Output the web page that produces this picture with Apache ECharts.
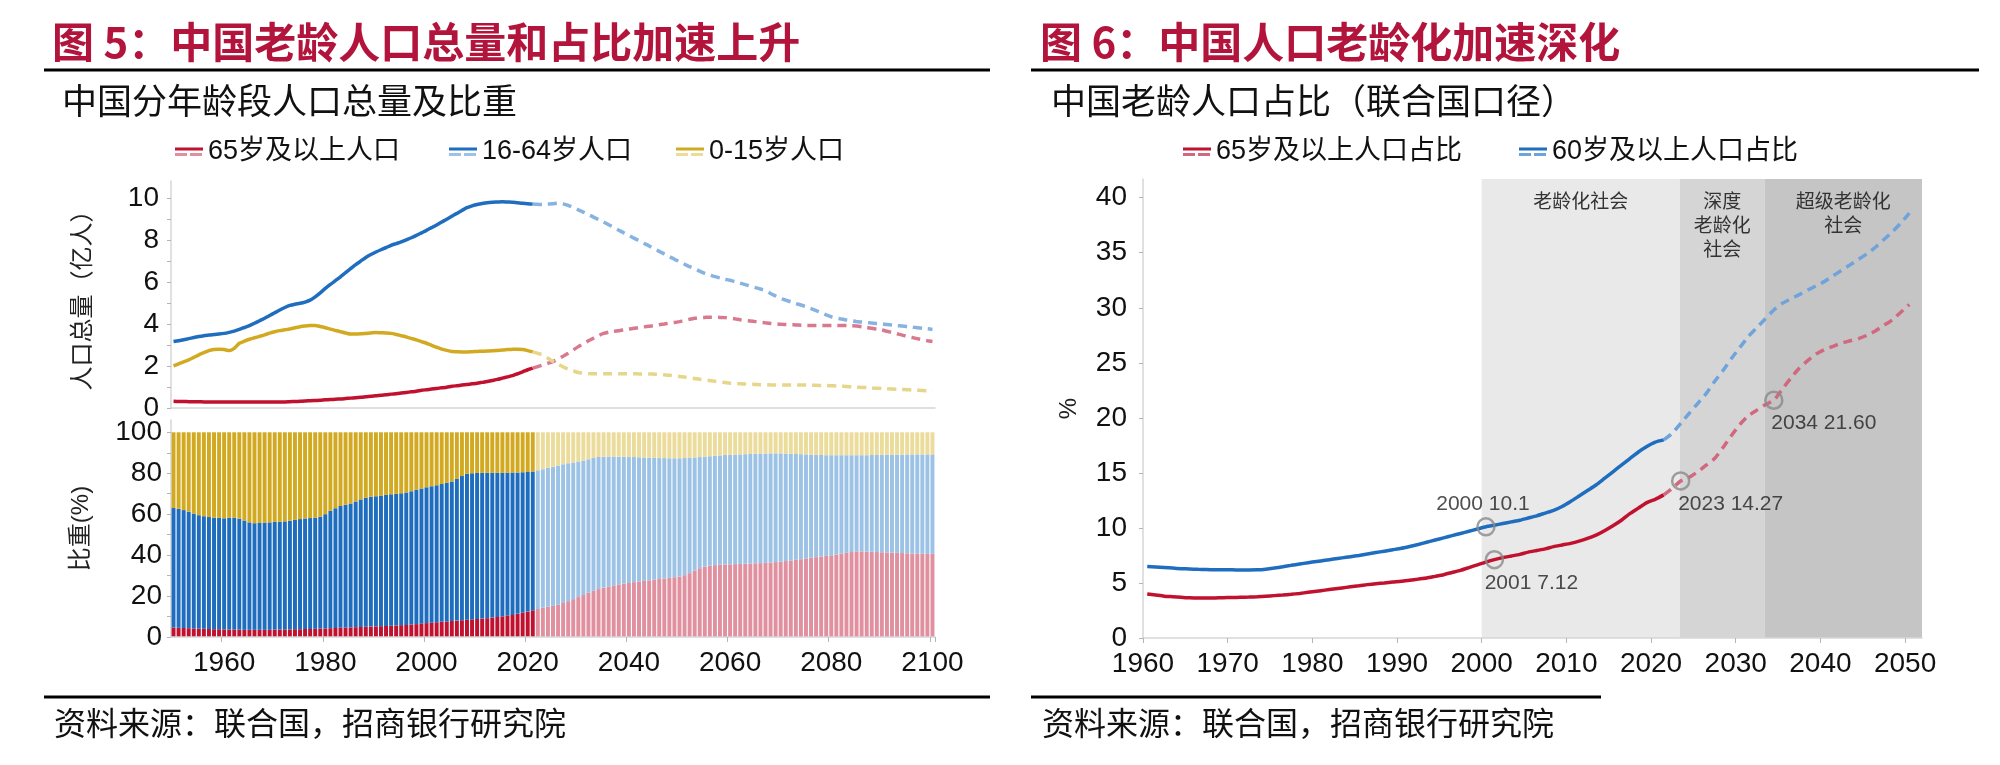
<!DOCTYPE html>
<html>
<head>
<meta charset="utf-8">
<script src="https://cdn.jsdelivr.net/npm/echarts@6.0.0/dist/echarts.min.js"></script>
<style>
html, body { margin: 0; padding: 0; background: #fff; }
#chart { width: 2000px; height: 765px; }
</style>
</head>
<body>
<div id="chart"></div>
<script>
// ---- data: left panel, population by age group (亿人), 1950-2100 ----
var firstYear = 1950, lastYear = 2100, lastHistYear = 2021;

var pop65 = [
  0.32,0.31,0.31,0.30,0.30,0.30,0.29,0.29,0.29,0.28,
  0.28,0.28,0.28,0.28,0.28,0.28,0.28,0.28,0.28,0.28,
  0.28,0.29,0.29,0.30,0.31,0.32,0.33,0.35,0.36,0.37,
  0.39,0.40,0.42,0.43,0.45,0.47,0.49,0.51,0.53,0.56,
  0.58,0.61,0.63,0.66,0.68,0.71,0.74,0.77,0.80,0.84,
  0.87,0.90,0.93,0.96,0.99,1.03,1.06,1.09,1.12,1.15,
  1.18,1.22,1.26,1.31,1.36,1.42,1.48,1.54,1.63,1.72,
  1.82,1.90,1.97,2.05,2.13,2.21,2.33,2.46,2.60,2.76,
  2.92,3.06,3.20,3.32,3.45,3.55,3.61,3.65,3.68,3.72,
  3.76,3.79,3.83,3.86,3.89,3.92,3.96,4.00,4.04,4.07,
  4.11,4.16,4.22,4.27,4.30,4.31,4.32,4.32,4.31,4.30,
  4.27,4.24,4.20,4.17,4.14,4.11,4.08,4.05,4.02,4.00,
  3.98,3.97,3.96,3.95,3.94,3.93,3.93,3.93,3.93,3.93,
  3.93,3.93,3.92,3.92,3.91,3.90,3.87,3.83,3.79,3.75,
  3.71,3.65,3.59,3.53,3.47,3.40,3.35,3.30,3.25,3.20,
  3.16
];
var pop1664 = [
  3.16,3.20,3.25,3.30,3.35,3.40,3.44,3.47,3.50,3.52,
  3.55,3.60,3.66,3.74,3.83,3.92,4.03,4.15,4.27,4.40,
  4.53,4.66,4.78,4.88,4.94,4.98,5.04,5.13,5.29,5.48,
  5.69,5.88,6.06,6.24,6.44,6.63,6.82,6.99,7.16,7.30,
  7.42,7.53,7.63,7.74,7.82,7.90,8.00,8.10,8.21,8.33,
  8.45,8.58,8.71,8.85,8.98,9.12,9.26,9.40,9.53,9.62,
  9.68,9.73,9.77,9.79,9.80,9.81,9.80,9.79,9.76,9.74,
  9.72,9.70,9.69,9.68,9.70,9.72,9.75,9.71,9.64,9.54,
  9.43,9.32,9.20,9.08,8.97,8.85,8.72,8.59,8.46,8.33,
  8.21,8.08,7.96,7.83,7.71,7.58,7.45,7.33,7.20,7.08,
  6.95,6.84,6.73,6.63,6.51,6.40,6.32,6.25,6.19,6.13,
  6.08,6.01,5.94,5.87,5.80,5.73,5.66,5.58,5.45,5.33,
  5.21,5.13,5.05,4.97,4.90,4.82,4.73,4.63,4.53,4.43,
  4.34,4.28,4.23,4.19,4.15,4.11,4.09,4.07,4.04,4.02,
  4.00,3.97,3.95,3.92,3.90,3.87,3.85,3.82,3.79,3.77,
  3.74
];
var pop015 = [
  2.00,2.10,2.20,2.29,2.41,2.53,2.63,2.73,2.78,2.80,
  2.78,2.73,2.84,3.08,3.18,3.27,3.34,3.41,3.48,3.56,
  3.63,3.68,3.72,3.76,3.82,3.87,3.90,3.92,3.93,3.88,
  3.82,3.75,3.69,3.63,3.57,3.52,3.52,3.53,3.55,3.57,
  3.59,3.58,3.57,3.55,3.50,3.44,3.38,3.31,3.24,3.16,
  3.08,2.98,2.89,2.80,2.74,2.69,2.68,2.67,2.67,2.68,
  2.69,2.70,2.71,2.72,2.74,2.76,2.78,2.79,2.80,2.78,
  2.73,2.67,2.60,2.53,2.37,2.21,2.08,1.96,1.85,1.77,
  1.69,1.66,1.64,1.63,1.63,1.63,1.63,1.63,1.63,1.63,
  1.63,1.63,1.62,1.62,1.62,1.61,1.60,1.58,1.56,1.53,
  1.50,1.47,1.44,1.40,1.37,1.34,1.31,1.27,1.24,1.21,
  1.18,1.17,1.15,1.14,1.13,1.12,1.11,1.11,1.10,1.10,
  1.09,1.09,1.09,1.09,1.09,1.09,1.08,1.08,1.07,1.07,
  1.06,1.05,1.04,1.02,1.01,0.99,0.98,0.97,0.95,0.94,
  0.93,0.92,0.90,0.89,0.88,0.87,0.86,0.85,0.83,0.82,
  0.81
];

// cumulative share (%) read at the top of the red and of the blue bars
var cum65 = [
  4.6,4.5,4.4,4.3,4.2,4.1,4.0,3.9,3.8,3.8,
  3.7,3.7,3.6,3.6,3.5,3.5,3.5,3.5,3.5,3.5,
  3.6,3.6,3.7,3.7,3.8,3.8,3.9,3.9,4.0,4.1,
  4.2,4.3,4.4,4.5,4.6,4.7,4.8,4.9,5.0,5.1,
  5.2,5.3,5.4,5.5,5.6,5.8,5.9,6.1,6.3,6.5,
  6.8,7.0,7.2,7.4,7.6,7.8,8.0,8.2,8.4,8.6,
  8.8,9.0,9.2,9.5,9.8,10.1,10.4,10.8,11.3,11.8,
  12.4,13.0,13.7,14.3,14.8,15.2,15.8,16.6,17.5,18.5,
  19.5,20.5,21.6,22.6,23.4,24.0,24.6,25.2,25.7,26.1,
  26.4,26.8,27.1,27.4,27.7,28.0,28.3,28.6,28.9,29.2,
  29.5,30.2,31.2,32.5,33.6,34.4,34.8,35.1,35.3,35.4,
  35.5,35.6,35.7,35.8,35.9,36.0,36.1,36.2,36.4,36.6,
  36.8,37.1,37.4,37.7,38.0,38.4,38.7,39.0,39.3,39.6,
  39.9,40.3,40.7,41.1,41.5,41.8,41.8,41.7,41.6,41.5,
  41.4,41.3,41.2,41.1,41.0,40.9,40.8,40.8,40.7,40.6,
  40.6
];
var cum1664 = [
  63.0,62.6,62.0,61.2,60.3,59.5,59.0,58.6,58.3,58.2,
  58.0,58.2,58.3,57.8,56.9,56.0,55.6,55.7,55.9,56.0,
  56.2,56.3,56.5,56.8,57.2,57.6,57.9,58.1,58.2,58.8,
  60.0,61.6,62.9,64.0,64.6,65.2,66.2,67.2,68.0,68.5,
  68.8,69.1,69.4,69.7,69.9,70.2,70.6,71.2,71.9,72.5,
  73.1,73.6,74.1,74.7,75.3,76.0,77.2,78.6,79.7,80.0,
  80.1,80.2,80.2,80.2,80.2,80.2,80.2,80.3,80.4,80.5,
  80.6,80.8,81.4,82.0,82.6,83.2,83.8,84.4,84.9,85.3,
  85.7,86.2,86.8,87.4,87.9,88.1,88.2,88.2,88.1,88.0,
  87.9,87.9,87.8,87.7,87.6,87.5,87.4,87.4,87.3,87.3,
  87.3,87.4,87.5,87.7,87.9,88.1,88.3,88.5,88.7,88.9,
  89.0,89.1,89.2,89.3,89.4,89.5,89.6,89.6,89.7,89.7,
  89.7,89.6,89.5,89.4,89.3,89.2,89.1,89.0,88.9,88.8,
  88.8,88.8,88.8,88.8,88.8,88.8,88.8,88.8,88.9,88.9,
  89.0,89.0,89.1,89.1,89.1,89.2,89.2,89.2,89.2,89.2,
  89.2
];

// ---- data: right panel, share of elderly (%), 1960-2050 ----
var ratioFirstYear = 1960, ratioLastYear = 2050;
var ratio65 = [
  4.0,3.9,3.8,3.75,3.7,3.65,3.63,3.63,3.64,3.66,
  3.68,3.7,3.72,3.75,3.8,3.85,3.9,3.97,4.05,4.15,
  4.25,4.35,4.45,4.55,4.65,4.75,4.85,4.93,5.0,5.08,
  5.15,5.25,5.35,5.45,5.6,5.75,5.95,6.15,6.4,6.65,
  6.9,7.12,7.3,7.45,7.6,7.8,7.95,8.1,8.3,8.45,
  8.6,8.8,9.05,9.35,9.75,10.2,10.7,11.3,11.8,12.3,
  12.6,13.0,13.6,14.27,14.6,15.1,15.7,16.3,17.3,18.4,
  19.4,20.2,20.7,21.2,21.6,22.6,23.6,24.5,25.2,25.8,
  26.2,26.5,26.8,27.0,27.2,27.5,27.9,28.4,28.9,29.6,
  30.3
];
var ratio60 = [
  6.5,6.45,6.4,6.35,6.3,6.27,6.24,6.22,6.2,6.19,
  6.19,6.18,6.18,6.19,6.25,6.35,6.47,6.6,6.72,6.84,
  6.95,7.06,7.17,7.28,7.39,7.5,7.63,7.76,7.89,8.02,
  8.15,8.32,8.5,8.7,8.9,9.1,9.3,9.5,9.7,9.9,
  10.1,10.25,10.4,10.55,10.7,10.9,11.1,11.35,11.6,11.95,
  12.4,12.9,13.4,13.9,14.5,15.1,15.7,16.3,16.9,17.4,
  17.8,18.0,18.6,19.5,20.4,21.3,22.2,23.3,24.3,25.4,
  26.4,27.4,28.2,29.0,29.8,30.4,30.8,31.2,31.6,32.0,
  32.4,32.9,33.4,33.9,34.4,34.9,35.5,36.2,36.9,37.7,
  38.6
];

// annotated points on the right panel
var annoYears = [2000, 2001, 2023, 2034];
var annoSeries = ['60', '65', '65', '65'];
var annoDigits = [1, 2, 2, 2];

// stages of ageing (shaded bands)
var stageNames = ['老龄化社会', '深度\n老龄化\n社会', '超级老龄化\n社会'];
var stageStart = [2000, 2023.4, 2033.4];
var stageEnd = [2023.4, 2033.4, 2052];

// ticks and labels
var popTicks = [0, 1, 2, 3, 4, 5, 6, 7, 8, 9, 10];
var popLabels = [0, 2, 4, 6, 8, 10];
var shareTicks = [0, 10, 20, 30, 40, 50, 60, 70, 80, 90, 100];
var shareLabels = [0, 20, 40, 60, 80, 100];
var ratioTicks = [0, 5, 10, 15, 20, 25, 30, 35, 40];
var yearTicks = [1960, 1970, 1980, 1990, 2000, 2010, 2020, 2030, 2040, 2050];

// ---- colours and fonts ----
var red = '#c0112f', redLight = '#e0909f', redDash = '#d9798e';
var blue = '#1f6dbf', blueLight = '#9cc2e6', blueDash = '#86b3e0';
var gold = '#d2aa22', goldLight = '#ecdc9c', goldDash = '#e6d68a';
var redDashR = '#d2687f', blueDashR = '#6ea3dc';
var cjk = "'Noto Sans CJK SC', sans-serif";
var mix = "'Liberation Sans', 'Noto Sans CJK SC', sans-serif";
var axisGray = '#d6d6d6', tickGray = '#b5b5b5';

var years = [];
for (var y = firstYear; y <= lastYear; y++) years.push(String(y));
var ratioYears = [];
for (var y2 = ratioFirstYear; y2 <= ratioLastYear; y2++) ratioYears.push(y2);

function legendIcon(dark, light) {
  var svg = '<svg xmlns="http://www.w3.org/2000/svg" width="28" height="10" viewBox="0 0 28 10">' +
    '<line x1="0" y1="2" x2="28" y2="2" stroke="' + dark + '" stroke-width="3"/>' +
    '<line x1="0" y1="7.5" x2="28" y2="7.5" stroke="' + light + '" stroke-width="3" stroke-dasharray="12 3"/></svg>';
  return 'image://data:image/svg+xml;charset=utf-8,' + encodeURIComponent(svg);
}

function splitHist(arr, yrs) {
  return arr.map(function (v, i) { return Number(yrs[i]) <= lastHistYear ? v : null; });
}
function splitProj(arr, yrs) {
  return arr.map(function (v, i) { return Number(yrs[i]) >= lastHistYear ? v : null; });
}
// right panel points sit in the middle of each year
function toXY(arr, hist) {
  var out = [];
  arr.forEach(function (v, i) {
    var yr = ratioYears[i];
    if (hist ? yr <= lastHistYear : yr >= lastHistYear) out.push([yr + 0.5, v]);
  });
  return out;
}

function popLine(name, arr, color, dashColor) {
  return [{
    name: name, type: 'line', xAxisIndex: 0, yAxisIndex: 0,
    data: splitHist(arr, years), symbol: 'none', smooth: 0.2,
    lineStyle: { color: color, width: 3.5 }, itemStyle: { color: color }
  }, {
    name: name, type: 'line', xAxisIndex: 0, yAxisIndex: 0,
    data: splitProj(arr, years), symbol: 'none', smooth: 0.2,
    lineStyle: { color: dashColor, width: 3.5, type: [9, 6] }, itemStyle: { color: color }
  }];
}

function shareBar(name, values, dark, light) {
  return {
    name: name, type: 'bar', stack: 'share', xAxisIndex: 1, yAxisIndex: 1,
    barCategoryGap: '22%',
    data: values.map(function (v, i) {
      return { value: v, itemStyle: { color: Number(years[i]) <= lastHistYear ? dark : light } };
    })
  };
}

var share65 = cum65.slice();
var share1664 = cum1664.map(function (v, i) { return +(v - cum65[i]).toFixed(2); });
var share015 = cum1664.map(function (v) { return +(100 - v).toFixed(2); });

// annotation points
var annoData = annoYears.map(function (yr, k) {
  var idx = yr - ratioFirstYear;
  var v = annoSeries[k] === '60' ? ratio60[idx] : ratio65[idx];
  var label = k === 0
    ? { position: 'top', distance: 2, offset: [-3, 0] }
    : { position: 'bottom', distance: 3, offset: [k === 1 ? 37 : 50, 0] };
  label.formatter = yr + ' ' + v.toFixed(annoDigits[k]);
  return { value: [yr + 0.5, v], label: label };
});

var legendCommon = {
  itemWidth: 28, itemHeight: 10, padding: 0, selectedMode: false,
  textStyle: { fontSize: 27, fontFamily: mix, color: '#111', lineHeight: 32 }
};
function legendAt(left, name, dark, light) {
  return Object.assign({}, legendCommon, {
    left: left, top: 136,
    data: [{ name: name, icon: legendIcon(dark, light) }]
  });
}

var chartDom = document.getElementById('chart');
var myChart = echarts.init(chartDom, null, { renderer: 'canvas' });

var option = {
  animation: false,
  backgroundColor: '#fff',
  title: [
    { text: '图 5：中国老龄人口总量和占比加速上升', left: 52, top: 17, padding: 0,
      textStyle: { fontSize: 42, fontWeight: 'bold', color: '#b3143c', fontFamily: cjk, lineHeight: 50 } },
    { text: '中国分年龄段人口总量及比重', left: 62, top: 80, padding: 0,
      textStyle: { fontSize: 35, fontWeight: 'normal', color: '#111', fontFamily: cjk, lineHeight: 42 } },
    { text: '资料来源：联合国，招商银行研究院', left: 54, top: 704, padding: 0,
      textStyle: { fontSize: 32, fontWeight: 'normal', color: '#111', fontFamily: cjk, lineHeight: 38 } },
    { text: '图 6：中国人口老龄化加速深化', left: 1040, top: 17, padding: 0,
      textStyle: { fontSize: 42, fontWeight: 'bold', color: '#b3143c', fontFamily: cjk, lineHeight: 50 } },
    { text: '中国老龄人口占比（联合国口径）', left: 1051, top: 80, padding: 0,
      textStyle: { fontSize: 35, fontWeight: 'normal', color: '#111', fontFamily: cjk, lineHeight: 42 } },
    { text: '资料来源：联合国，招商银行研究院', left: 1042, top: 704, padding: 0,
      textStyle: { fontSize: 32, fontWeight: 'normal', color: '#111', fontFamily: cjk, lineHeight: 38 } }
  ],
  legend: [
    legendAt(175, '65岁及以上人口', red, redLight),
    legendAt(449, '16-64岁人口', blue, blueLight),
    legendAt(676, '0-15岁人口', gold, goldLight),
    legendAt(1183, '65岁及以上人口占比', red, redDashR),
    legendAt(1519, '60岁及以上人口占比', blue, blueDashR)
  ],
  graphic: [
    { type: 'line', shape: { x1: 44, y1: 70, x2: 990, y2: 70 }, style: { stroke: '#000', lineWidth: 3 } },
    { type: 'line', shape: { x1: 1031, y1: 70, x2: 1979, y2: 70 }, style: { stroke: '#000', lineWidth: 3 } },
    { type: 'line', shape: { x1: 44, y1: 697, x2: 990, y2: 697 }, style: { stroke: '#000', lineWidth: 3 } },
    { type: 'line', shape: { x1: 1031, y1: 697, x2: 1601, y2: 697 }, style: { stroke: '#000', lineWidth: 3 } }
  ],
  grid: [
    { left: 171, top: 181, width: 764, height: 227, containLabel: false, outerBoundsMode: 'none' },
    { left: 171, top: 420, width: 764, height: 217, containLabel: false, outerBoundsMode: 'none' },
    { left: 1143, top: 179, width: 779, height: 459, containLabel: false, outerBoundsMode: 'none' }
  ],
  xAxis: [
    { type: 'category', gridIndex: 0, data: years, boundaryGap: true,
      axisLine: { lineStyle: { color: axisGray, width: 1.5 } },
      axisTick: { show: false }, axisLabel: { show: false }, splitLine: { show: false } },
    { type: 'category', gridIndex: 1, data: years, boundaryGap: true, z: 5,
      axisLine: { lineStyle: { color: axisGray, width: 1.5 } },
      axisTick: { show: true, length: 5, lineStyle: { color: tickGray },
        interval: function (i) { return Number(years[i]) % 20 === 0; } },
      axisLabel: { fontSize: 28, fontFamily: mix, color: '#111', margin: 12,
        interval: function (i) { return Number(years[i]) % 20 === 0; } },
      splitLine: { show: false } },
    { type: 'value', gridIndex: 2, min: 1960, max: 2052, interval: 10, z: 5,
      axisLine: { show: true, lineStyle: { color: axisGray, width: 1.5 } },
      axisTick: { show: true, length: 5, lineStyle: { color: tickGray }, customValues: yearTicks },
      axisLabel: { fontSize: 28, fontFamily: mix, color: '#111', margin: 12, customValues: yearTicks,
        formatter: function (v) { return String(v); } },
      splitLine: { show: false } }
  ],
  yAxis: [
    { type: 'value', gridIndex: 0, min: 0, max: 10.8,
      name: '人口总量（亿人）', nameLocation: 'middle', nameRotate: 90, nameGap: 78,
      nameTextStyle: { fontSize: 24, fontFamily: cjk, color: '#222' },
      axisLine: { show: true, lineStyle: { color: axisGray, width: 1.5 } },
      axisTick: { show: true, length: 4, lineStyle: { color: tickGray }, customValues: popTicks },
      axisLabel: { fontSize: 28, fontFamily: mix, color: '#111', margin: 12, customValues: popLabels },
      splitLine: { show: false } },
    { type: 'value', gridIndex: 1, min: 0, max: 106,
      name: '比重(%)', nameLocation: 'middle', nameRotate: 90, nameGap: 78,
      nameTextStyle: { fontSize: 24, fontFamily: mix, color: '#222' },
      axisLine: { show: true, lineStyle: { color: axisGray, width: 1.5 } },
      axisTick: { show: true, length: 4, lineStyle: { color: tickGray }, customValues: shareTicks },
      axisLabel: { fontSize: 28, fontFamily: mix, color: '#111', margin: 9, customValues: shareLabels },
      splitLine: { show: false } },
    { type: 'value', gridIndex: 2, min: 0, max: 41.7, z: 5,
      name: '%', nameLocation: 'middle', nameRotate: 90, nameGap: 62,
      nameTextStyle: { fontSize: 24, fontFamily: mix, color: '#222' },
      axisLine: { show: true, lineStyle: { color: axisGray, width: 1.5 } },
      axisTick: { show: true, length: 4, lineStyle: { color: tickGray }, customValues: ratioTicks },
      axisLabel: { fontSize: 28, fontFamily: mix, color: '#111', margin: 16, customValues: ratioTicks },
      splitLine: { show: false } }
  ],
  series: []
    .concat(popLine('65岁及以上人口', pop65, red, redDash))
    .concat(popLine('16-64岁人口', pop1664, blue, blueDash))
    .concat(popLine('0-15岁人口', pop015, gold, goldDash))
    .concat([
      shareBar('65岁及以上人口', share65, red, redLight),
      shareBar('16-64岁人口', share1664, blue, blueLight),
      shareBar('0-15岁人口', share015, gold, goldLight),
      {
        name: 'stages', type: 'line', xAxisIndex: 2, yAxisIndex: 2, data: [], z: 1,
        markArea: {
          silent: true,
          label: { position: 'insideTop', distance: 10, fontSize: 19, fontFamily: cjk,
            color: '#333', lineHeight: 24 },
          data: stageNames.map(function (n, k) {
            return [{ name: n, xAxis: stageStart[k],
              itemStyle: { color: ['#e8e9e8', '#d5d5d5', '#c5c5c5'][k] } },
              { xAxis: stageEnd[k] }];
          })
        }
      },
      { name: '65岁及以上人口占比', type: 'line', xAxisIndex: 2, yAxisIndex: 2, z: 3,
        data: toXY(ratio65, true), symbol: 'none', smooth: 0.2,
        lineStyle: { color: red, width: 3.5 }, itemStyle: { color: red } },
      { name: '65岁及以上人口占比', type: 'line', xAxisIndex: 2, yAxisIndex: 2, z: 3,
        data: toXY(ratio65, false), symbol: 'none', smooth: 0.2,
        lineStyle: { color: redDashR, width: 3.5, type: [9, 6] }, itemStyle: { color: red } },
      { name: '60岁及以上人口占比', type: 'line', xAxisIndex: 2, yAxisIndex: 2, z: 3,
        data: toXY(ratio60, true), symbol: 'none', smooth: 0.2,
        lineStyle: { color: blue, width: 3.5 }, itemStyle: { color: blue } },
      { name: '60岁及以上人口占比', type: 'line', xAxisIndex: 2, yAxisIndex: 2, z: 3,
        data: toXY(ratio60, false), symbol: 'none', smooth: 0.2,
        lineStyle: { color: blueDashR, width: 3.5, type: [9, 6] }, itemStyle: { color: blue } },
      { name: 'anno', type: 'scatter', xAxisIndex: 2, yAxisIndex: 2, z: 4,
        symbol: 'circle', symbolSize: 17, data: annoData,
        itemStyle: { color: 'rgba(0,0,0,0)', borderColor: '#8a8a8a', borderWidth: 2.5 },
        label: { show: true, fontSize: 21, fontFamily: mix, color: '#222' } }
    ])
};

myChart.setOption(option);
</script>
</body>
</html>
